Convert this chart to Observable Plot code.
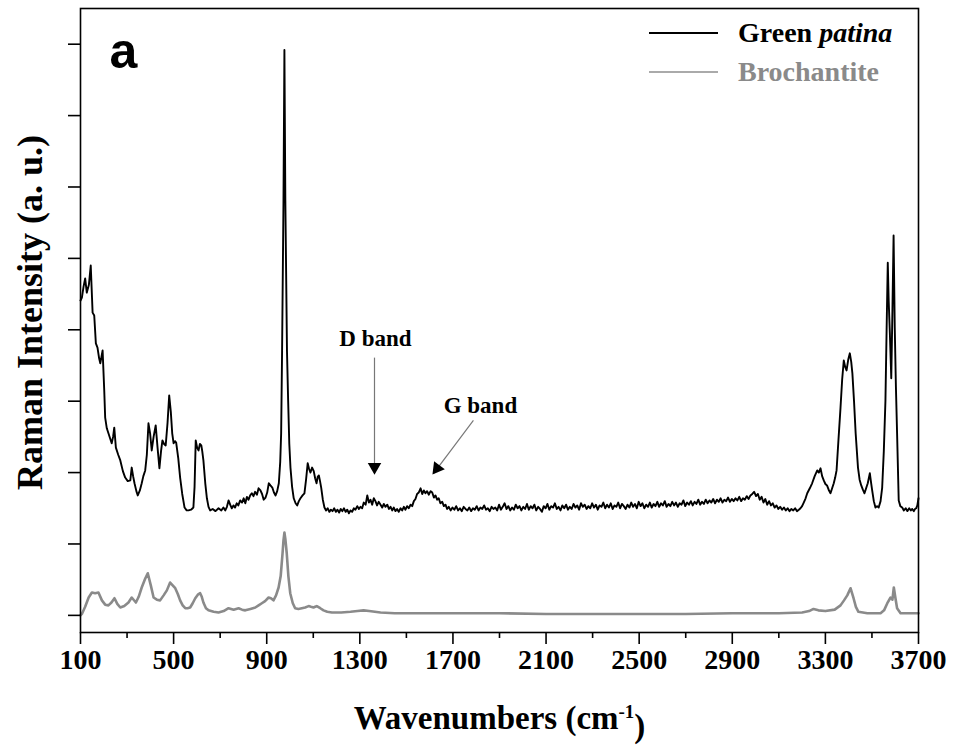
<!DOCTYPE html>
<html><head><meta charset="utf-8">
<script src="https://cdn.jsdelivr.net/npm/d3@7"></script>
<script src="https://cdn.jsdelivr.net/npm/@observablehq/plot@0.6"></script>
<style>
body{margin:0;background:#fff;}
#wrap{position:relative;width:954px;height:747px;}
.lg{position:absolute;left:649px;height:40px;display:flex;align-items:center;font-family:"Liberation Serif",serif;font-weight:bold;font-size:28px;}
.lg .sw{display:inline-block;width:69px;margin-right:20px;}
</style></head><body><div id="wrap"></div>
<script>
// Green patina spectrum: [wavenumber (cm-1), intensity (a.u.)]
const patina = [
[100,4.41],[106,4.45],[113,4.60],[120,4.72],[127,4.52],[136,4.63],[144,4.90],[152,4.24],[159,4.20],[166,3.81],
[173,3.75],[180,3.60],[185,3.53],[190,3.62],[195,3.71],[202,3.15],[206,2.77],[213,2.62],[220,2.55],[234,2.41],
[240,2.50],[245,2.63],[252,2.35],[262,2.25],[271,2.17],[282,2.02],[292,1.93],[303,1.88],[314,1.89],[320,2.07],
[326,1.95],[332,1.85],[340,1.74],[346,1.68],[355,1.75],[363,1.85],[370,1.95],[378,2.03],[385,2.25],[392,2.69],
[399,2.55],[406,2.31],[414,2.50],[423,2.66],[431,2.35],[439,2.06],[446,2.30],[452,2.45],[459,2.40],[466,2.38],
[474,2.70],[481,3.08],[488,2.85],[494,2.55],[500,2.41],[506,2.44],[511,2.42],[520,2.20],[528,1.93],[537,1.70],
[547,1.51],[556,1.47],[564,1.47],[575,1.48],[585,1.51],[590,1.80],[595,2.45],[601,2.35],[607,2.31],[613,2.40],
[619,2.38],[623,2.30],[628,2.17],[636,1.85],[643,1.64],[650,1.52],[657,1.47],[668,1.49],[680,1.46],[693,1.50],
[705,1.47],[714,1.51],[722,1.47],[729,1.52],[736,1.61],[743,1.55],[750,1.50],[757,1.54],[764,1.51],[771,1.57],
[778,1.54],[786,1.61],[794,1.58],[801,1.64],[808,1.57],[815,1.66],[822,1.62],[829,1.68],[836,1.71],[843,1.67],
[850,1.73],[858,1.69],[865,1.78],[873,1.75],[880,1.70],[887,1.62],[895,1.65],[902,1.72],[909,1.85],[916,1.82],
[924,1.79],[931,1.72],[938,1.68],[945,1.74],[952,1.85],[958,2.15],[962,2.55],[966,3.71],[972,5.81],[976,7.92],
[980,5.81],[987,3.71],[992,3.01],[997,2.40],[1002,2.07],[1009,1.80],[1016,1.64],[1024,1.57],[1031,1.54],[1038,1.60],
[1045,1.64],[1054,1.68],[1062,1.71],[1069,1.90],[1076,2.13],[1082,2.05],[1088,2.00],[1095,2.07],[1102,2.02],[1108,1.92],
[1114,1.85],[1119,1.94],[1124,1.96],[1129,1.88],[1134,1.79],[1141,1.62],[1148,1.51],[1155,1.47],[1162,1.50],[1169,1.45],
[1176,1.48],[1183,1.46],[1190,1.50],[1197,1.45],[1204,1.48],[1211,1.44],[1218,1.49],[1225,1.46],[1232,1.50],[1239,1.45],
[1246,1.48],[1253,1.43],[1260,1.47],[1267,1.45],[1274,1.50],[1281,1.48],[1289,1.53],[1296,1.49],[1303,1.52],[1310,1.50],
[1317,1.58],[1325,1.55],[1332,1.68],[1339,1.58],[1346,1.62],[1353,1.55],[1360,1.64],[1367,1.60],[1374,1.54],[1381,1.59],
[1389,1.55],[1396,1.51],[1403,1.56],[1410,1.52],[1418,1.55],[1425,1.49],[1432,1.52],[1439,1.47],[1446,1.51],[1453,1.46],
[1460,1.49],[1467,1.45],[1475,1.50],[1482,1.47],[1489,1.52],[1496,1.48],[1503,1.53],[1510,1.50],[1518,1.55],[1525,1.53],
[1532,1.60],[1539,1.63],[1546,1.70],[1553,1.72],[1561,1.78],[1568,1.70],[1575,1.75],[1582,1.71],[1589,1.74],[1596,1.69],
[1604,1.74],[1611,1.72],[1618,1.65],[1625,1.68],[1632,1.62],[1639,1.64],[1646,1.57],[1654,1.59],[1661,1.53],[1668,1.55],
[1675,1.49],[1682,1.52],[1690,1.47],[1698,1.51],[1706,1.48],[1714,1.53],[1722,1.47],[1730,1.50],[1738,1.46],[1746,1.52],
[1754,1.49],[1762,1.47],[1770,1.51],[1778,1.46],[1786,1.50],[1794,1.48],[1802,1.53],[1810,1.47],[1818,1.51],[1826,1.49],
[1834,1.54],[1842,1.48],[1850,1.50],[1858,1.46],[1866,1.52],[1874,1.49],[1882,1.51],[1890,1.47],[1898,1.55],[1906,1.48],
[1914,1.52],[1922,1.57],[1930,1.49],[1938,1.53],[1946,1.47],[1954,1.51],[1962,1.48],[1970,1.55],[1978,1.50],[1986,1.53],
[1994,1.47],[2002,1.52],[2010,1.49],[2018,1.56],[2026,1.48],[2034,1.53],[2042,1.50],[2050,1.55],[2058,1.47],[2066,1.52],
[2074,1.49],[2082,1.45],[2090,1.53],[2098,1.50],[2106,1.56],[2114,1.48],[2122,1.53],[2130,1.51],[2138,1.57],[2146,1.49],
[2154,1.52],[2162,1.47],[2170,1.54],[2178,1.50],[2186,1.55],[2194,1.48],[2202,1.52],[2210,1.49],[2218,1.56],[2226,1.51],
[2234,1.54],[2242,1.48],[2250,1.57],[2258,1.52],[2266,1.55],[2274,1.49],[2282,1.53],[2290,1.50],[2298,1.57],[2306,1.51],
[2314,1.55],[2322,1.48],[2330,1.54],[2338,1.52],[2346,1.58],[2354,1.50],[2362,1.55],[2370,1.51],[2378,1.57],[2386,1.49],
[2394,1.54],[2402,1.52],[2410,1.58],[2418,1.50],[2426,1.56],[2434,1.53],[2442,1.49],[2450,1.55],[2458,1.51],[2466,1.58],
[2474,1.52],[2482,1.56],[2490,1.50],[2498,1.59],[2506,1.53],[2514,1.57],[2522,1.50],[2530,1.55],[2538,1.52],[2546,1.58],
[2554,1.51],[2562,1.56],[2570,1.53],[2578,1.59],[2586,1.52],[2594,1.57],[2602,1.54],[2610,1.60],[2618,1.52],[2626,1.56],
[2634,1.53],[2642,1.59],[2650,1.54],[2658,1.58],[2666,1.52],[2674,1.57],[2682,1.55],[2690,1.61],[2698,1.53],[2706,1.58],
[2714,1.55],[2722,1.60],[2730,1.54],[2738,1.59],[2746,1.56],[2754,1.62],[2762,1.55],[2770,1.59],[2778,1.56],[2786,1.62],
[2794,1.57],[2802,1.61],[2810,1.58],[2818,1.63],[2826,1.57],[2834,1.62],[2842,1.59],[2850,1.64],[2858,1.58],[2866,1.62],
[2874,1.60],[2882,1.65],[2890,1.59],[2898,1.63],[2906,1.60],[2914,1.64],[2922,1.61],[2930,1.66],[2938,1.60],[2946,1.64],
[2954,1.62],[2962,1.67],[2970,1.63],[2978,1.68],[2986,1.70],[2994,1.73],[3002,1.67],[3010,1.70],[3018,1.62],[3026,1.66],
[3034,1.58],[3042,1.63],[3050,1.55],[3058,1.60],[3066,1.54],[3074,1.57],[3082,1.51],[3090,1.54],[3098,1.49],[3106,1.52],
[3114,1.48],[3122,1.51],[3130,1.47],[3138,1.50],[3146,1.46],[3154,1.49],[3162,1.47],[3170,1.50],[3178,1.46],[3186,1.48],
[3193,1.50],[3200,1.53],[3207,1.58],[3215,1.64],[3222,1.71],[3233,1.78],[3243,1.85],[3254,1.95],[3265,2.03],[3272,2.00],
[3279,2.06],[3286,1.95],[3293,1.89],[3300,1.84],[3307,1.82],[3314,1.76],[3322,1.71],[3329,1.78],[3336,1.85],[3342,1.93],
[3348,2.03],[3356,2.45],[3365,2.91],[3372,3.30],[3379,3.57],[3385,3.48],[3391,3.43],[3398,3.58],[3405,3.67],[3411,3.55],
[3416,3.39],[3423,3.00],[3430,2.55],[3440,2.07],[3447,1.90],[3454,1.82],[3461,1.76],[3468,1.71],[3475,1.78],[3482,1.85],
[3491,1.99],[3497,1.84],[3501,1.75],[3508,1.60],[3515,1.51],[3522,1.53],[3529,1.51],[3537,1.60],[3544,1.79],[3551,2.30],
[3558,3.01],[3563,4.00],[3568,4.94],[3572,4.40],[3577,3.95],[3583,3.32],[3588,4.27],[3593,5.32],[3598,4.03],[3603,3.20],
[3608,2.55],[3615,1.61],[3622,1.53],[3630,1.51],[3637,1.47],[3645,1.50],[3652,1.46],[3660,1.50],[3667,1.47],[3673,1.49],
[3680,1.46],[3685,1.49],[3690,1.50],[3695,1.54],[3700,1.64]
];
// Brochantite reference spectrum: [wavenumber (cm-1), intensity (a.u.)]
const brochantite = [
[100,0.00],[106,0.02],[120,0.12],[135,0.25],[149,0.32],[163,0.31],[177,0.32],[192,0.21],[206,0.15],[220,0.14],
[233,0.18],[246,0.24],[258,0.16],[271,0.11],[288,0.13],[306,0.18],[320,0.25],[338,0.18],[350,0.26],[363,0.39],
[376,0.50],[389,0.59],[402,0.42],[414,0.25],[428,0.22],[442,0.21],[457,0.28],[471,0.35],[485,0.46],[496,0.42],
[507,0.38],[518,0.30],[528,0.21],[539,0.14],[550,0.10],[560,0.10],[571,0.11],[582,0.17],[593,0.24],[604,0.29],
[614,0.31],[621,0.26],[628,0.18],[639,0.10],[650,0.07],[672,0.05],[693,0.04],[715,0.06],[736,0.10],[758,0.08],
[779,0.10],[794,0.08],[808,0.07],[830,0.09],[851,0.11],[865,0.14],[879,0.17],[893,0.20],[908,0.25],[918,0.24],
[929,0.21],[940,0.28],[951,0.39],[960,0.55],[968,0.87],[972,1.05],[976,1.16],[980,1.07],[986,0.87],[993,0.55],
[1001,0.31],[1012,0.17],[1022,0.10],[1036,0.09],[1051,0.10],[1065,0.11],[1080,0.13],[1090,0.12],[1101,0.11],[1108,0.12],
[1115,0.13],[1130,0.10],[1144,0.07],[1160,0.05],[1180,0.04],[1220,0.04],[1260,0.05],[1290,0.06],[1316,0.07],[1340,0.06],
[1389,0.04],[1450,0.03],[1550,0.03],[1700,0.03],[1900,0.03],[2100,0.02],[2300,0.02],[2500,0.02],[2700,0.02],[2900,0.03],
[3100,0.03],[3200,0.04],[3230,0.06],[3249,0.09],[3270,0.07],[3300,0.06],[3340,0.08],[3365,0.14],[3380,0.21],[3394,0.28],
[3408,0.38],[3421,0.24],[3431,0.12],[3442,0.05],[3480,0.03],[3537,0.03],[3552,0.07],[3566,0.17],[3580,0.25],[3588,0.22],
[3594,0.39],[3601,0.24],[3608,0.10],[3623,0.03],[3660,0.03],[3700,0.03]
];
const xTicks = [100,500,900,1300,1700,2100,2500,2900,3300,3700];
const xMinorTicks = [300,700,1100,1500,1900,2300,2700,3100,3500];
const yTicks = [0,1,2,3,4,5,6,7,8];
// band annotations
const bandLabels = ["D band","G band"];
const bandLabelPos = [[1367,3.88],[1818,2.94]];
const bandArrowFrom = [[1363,3.61],[1788,2.73]];
const bandArrowTo = [[1363,1.99],[1617,1.99]];
const bandHeadPos = [[1363,2.08],[1632,2.06]];
const bandHeadAngle = [180,217];
const seriesNames = ["Green patina","Brochantite"];
const seriesColors = ["#000000","#8a8a8a"];

const toObj = a => a.map(([x,y]) => ({x,y}));
const notes = bandLabels.map((t,i)=>({t, x:bandLabelPos[i][0], y:bandLabelPos[i][1],
  x1:bandArrowFrom[i][0], y1:bandArrowFrom[i][1], x2:bandArrowTo[i][0], y2:bandArrowTo[i][1],
  hx:bandHeadPos[i][0], hy:bandHeadPos[i][1], a:bandHeadAngle[i]}));

const serif = '"Liberation Serif", "Times New Roman", serif';
const chart = Plot.plot({
  width: 954, height: 747,
  marginLeft: 80, marginRight: 36, marginTop: 8, marginBottom: 115,
  style: {fontFamily: serif, fontWeight: "bold", color: "#000", background: "#fff", overflow: "visible"},
  x: {domain: [100, 3700]},
  y: {domain: [-0.24, 8.5]},
  marks: [
    Plot.line(toObj(brochantite), {x: "x", y: "y", stroke: seriesColors[1], strokeWidth: 2.6, curve: "linear"}),
    Plot.line(toObj(patina), {x: "x", y: "y", stroke: seriesColors[0], strokeWidth: 1.9, curve: "linear"}),
    Plot.frame({stroke: "#000", strokeWidth: 1.6}),
    Plot.axisX({ticks: xTicks, tickSize: 12, tickPadding: 5, tickFormat: d => String(d), label: null, strokeWidth: 1.6, fontSize: 28, fontWeight: "bold"}),
    Plot.axisX({ticks: xMinorTicks, tickSize: 6, tickFormat: () => "", label: null, strokeWidth: 1.6}),
    Plot.axisY({ticks: yTicks, tickSize: 12, tickFormat: () => "", label: null, strokeWidth: 1.6}),
    Plot.link(notes, {x1: "x1", y1: "y1", x2: "x2", y2: "y2", stroke: "#777", strokeWidth: 1.2}),
    Plot.dot(notes, {x: "hx", y: "hy", symbol: "triangle", r: 5, fill: "#000", stroke: "none", rotate: "a"}),
    Plot.text(notes, {x: "x", y: "y", text: "t", fontSize: 23, fontWeight: "bold", fill: "#000"}),
    Plot.text(["a"], {text: d => d, frameAnchor: "top-left", dx: 43, dy: 43, lineAnchor: "middle", textAnchor: "middle", fontSize: 50, fontWeight: "bold", fontFamily: '"Liberation Sans", Arial, sans-serif'}),
    Plot.text(["Wavenumbers (cm-1)"], {text: d => d, frameAnchor: "bottom", dy: 86, lineAnchor: "middle", textAnchor: "middle", fontSize: 33, fontWeight: "bold"}),
    Plot.text(["Raman Intensity (a. u.)"], {text: d => d, frameAnchor: "left", dx: -50, dy: -8, rotate: -90, lineAnchor: "middle", textAnchor: "middle", fontSize: 36, fontWeight: "bold"})
  ]
});
// superscript on the x title
d3.select(chart).selectAll("text").filter(function(){ return this.textContent === "Wavenumbers (cm-1)"; })
  .each(function(){
    const t = d3.select(this);
    t.text("");
    t.append("tspan").text("Wavenumbers (cm");
    t.append("tspan").attr("dy", "-0.6em").attr("font-size", "19").text("-1");
    t.append("tspan").attr("dy", "0.6em").text(")");
  });
const wrap = document.getElementById("wrap");
wrap.appendChild(chart);
// legend
[[13,0],[52,1]].forEach(([top,i])=>{
  const d = document.createElement("div");
  d.className = "lg"; d.style.top = top + "px"; d.style.color = seriesColors[i];
  const sw = document.createElement("span"); sw.className = "sw";
  sw.style.borderTop = (i === 0 ? "2.5px" : "2px") + " solid " + (i === 0 ? "#000" : "#aaa");
  d.appendChild(sw);
  const label = document.createElement("span");
  if (i === 0) label.innerHTML = "Green <i>patina</i>"; else label.textContent = seriesNames[1];
  d.appendChild(label);
  wrap.appendChild(d);
});
</script></body></html>
